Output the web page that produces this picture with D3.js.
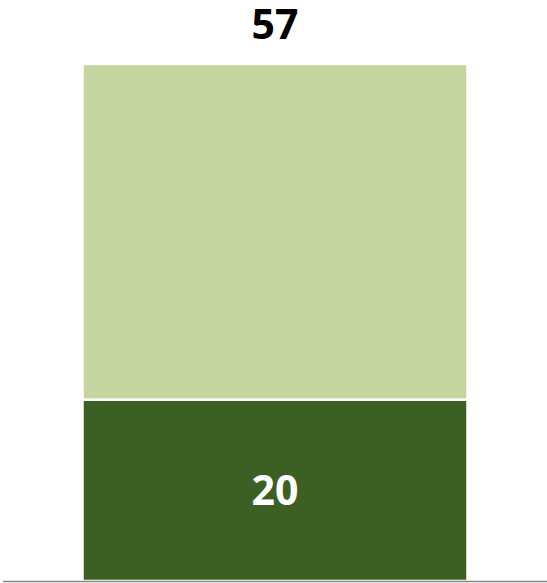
<!DOCTYPE html>
<html>
<head>
<meta charset="utf-8">
<script src="https://cdn.jsdelivr.net/npm/d3@7"></script>
<style>
  html, body { margin: 0; padding: 0; background: #fff; }
  svg { display: block; }
</style>
</head>
<body>
<div id="chart"></div>
<script>
// data
const categories = ['Total'];
const seriesNames = ['base', 'rest'];
const baseValues = [20];
const restValues = [37];
const seriesColors = ['#3c5f23', '#c4d69e'];

const width = 547;
const height = 583;

const svg = d3.select('#chart')
    .append('svg')
    .attr('width', width)
    .attr('height', height);

// layout
const margin = { top: 64, bottom: 2, left: 3, right: 0 };
const plotWidth = width - margin.left - margin.right;
const plotHeight = height - margin.top - margin.bottom;

const plot = svg.append('g')
    .attr('transform', `translate(${margin.left},${margin.top})`);

const rows = categories.map((c, i) => ({ cat: c, base: baseValues[i], rest: restValues[i] }));
const stacked = d3.stack().keys(seriesNames)(rows);
const totals = rows.map(d => d.base + d.rest);

const x = d3.scaleBand()
    .domain(categories)
    .range([0, plotWidth])
    .paddingInner(0)
    .paddingOuter(0.2065);

const y = d3.scaleLinear()
    .domain([0, d3.max(totals)])
    .range([plotHeight, 0]);

// bars
plot.selectAll('g.series')
    .data(stacked)
    .join('g')
    .attr('class', 'series')
    .attr('fill', (d, i) => seriesColors[i])
    .selectAll('rect')
    .data(d => d)
    .join('rect')
    .attr('x', d => x(d.data.cat))
    .attr('y', d => y(d[1]))
    .attr('width', x.bandwidth())
    .attr('height', d => y(d[0]) - y(d[1]))
    .attr('stroke', '#fff')
    .attr('stroke-width', 2.5);

// baseline
plot.append('line')
    .attr('x1', 0)
    .attr('x2', plotWidth)
    .attr('y1', y(0) + 0.5)
    .attr('y2', y(0) + 0.5)
    .attr('stroke', '#868686')
    .attr('stroke-width', 1.5);

// base value label
plot.selectAll('text.base')
    .data(rows)
    .join('text')
    .attr('class', 'base')
    .attr('x', d => x(d.cat) + x.bandwidth() / 2)
    .attr('y', d => (y(0) + y(d.base)) / 2)
    .attr('dy', '0.36em')
    .attr('text-anchor', 'middle')
    .attr('fill', '#fff')
    .style('font', 'bold 41px "Open Sans", sans-serif')
    .text(d => d.base);

// total label
plot.selectAll('text.total')
    .data(rows)
    .join('text')
    .attr('class', 'total')
    .attr('x', d => x(d.cat) + x.bandwidth() / 2)
    .attr('y', (d, i) => y(totals[i]) - 25)
    .attr('text-anchor', 'middle')
    .attr('fill', '#000')
    .style('font', 'bold 41px "Open Sans", sans-serif')
    .text((d, i) => totals[i]);
</script>
</body>
</html>
